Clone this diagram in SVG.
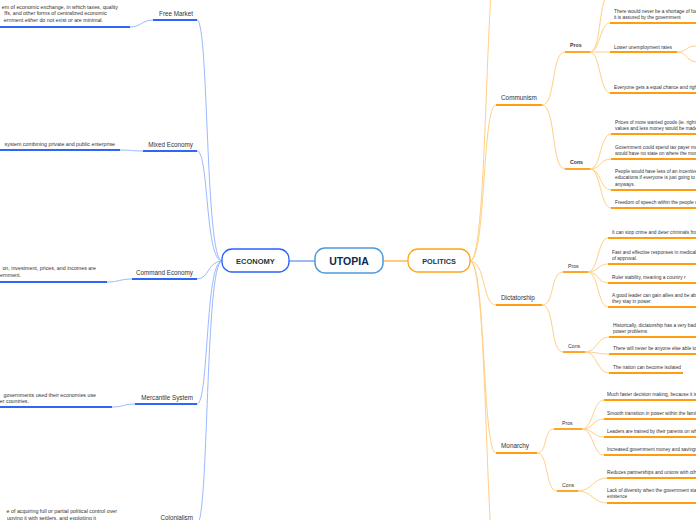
<svg xmlns="http://www.w3.org/2000/svg" width="696" height="520" viewBox="0 0 696 520">
<style>
.ec{fill:none;stroke:#9cb8ff;stroke-width:1}
.pc{fill:none;stroke:#ffcf86;stroke-width:1}
.eu{stroke:#2f66f5;stroke-width:1.8;fill:none}
.pu{stroke:#ff9c0f;stroke-width:1.8;fill:none}
.lab{font-family:"Liberation Sans",Arial,sans-serif;fill:#333}
.el{font-size:6.3px;text-anchor:end}
.ed{font-size:5.3px;text-anchor:end}
.pl{font-size:6.4px}
.pp{font-size:5.2px}
.it{font-size:4.8px}
.box{fill:#fff}
.bt{font-family:"Liberation Sans",Arial,sans-serif;font-weight:bold;text-anchor:middle}
</style>
<rect width="696" height="520" fill="#fff"/>
<g id="connectors">
  <line x1="289" y1="261" x2="315" y2="261" stroke="#5b8def" stroke-width="1.2"/>
  <line x1="383" y1="261" x2="408" y2="261" stroke="#ffa726" stroke-width="1.2"/>
  <!-- economy -->
  <path class="ec" d="M222,261 C205,261 209,20 197,20"/>
  <path class="ec" d="M222,261 C205,261 209,151 197,151"/>
  <path class="ec" d="M222,261 C208,261 209,279 197,279"/>
  <path class="ec" d="M222,261 C205,261 209,404 197,404"/>
  <path class="ec" d="M222,261 C205,261 209,524 197,524"/>
  <path class="ec" d="M153,20 C142,20 141,27 130,27"/>
  <path class="ec" d="M143,151 C131,151 132,150 120,150"/>
  <path class="ec" d="M132,279 C120,279 119,282 107,282"/>
  <path class="ec" d="M135,404 C123,404 124,407 112,407"/>
  <!-- politics -->
  <path class="pc" d="M470,261 C489,261 484,-60 500,-60"/>
  <path class="pc" d="M470,261 C486,261 482,105 496,105"/>
  <path class="pc" d="M470,261 C486,261 482,305 496,305"/>
  <path class="pc" d="M470,261 C486,261 482,453 496,453"/>
  <path class="pc" d="M470,261 C489,261 484,590 500,590"/>
  <path class="pc" d="M542,105 C556,105 551,52 565,52"/>
  <path class="pc" d="M542,105 C556,105 551,169 565,169"/>
  <path class="pc" d="M542,305 C555,305 550,272 563,272"/>
  <path class="pc" d="M542,305 C555,305 550,352 563,352"/>
  <path class="pc" d="M537,453 C548,453 543,429 554,429"/>
  <path class="pc" d="M537,453 C549,453 545,491 557,491"/>
  <path class="pc" d="M590,52 C602,52 598,-6 610,-6"/>
  <path class="pc" d="M590,52 C600,52 600,23 610,23"/>
  <path class="pc" d="M590,52 C600,52 600,52 610,52"/>
  <path class="pc" d="M590,52 C600,52 600,93 610,93"/>
  <path class="pc" d="M677,52 C687,52 686,46 696,46"/>
  <path class="pc" d="M677,52 C687,52 686,62 698,62"/>
  <path class="pc" d="M590,169 C601,169 600,134 611,134"/>
  <path class="pc" d="M590,169 C601,169 600,159 611,159"/>
  <path class="pc" d="M590,169 C601,169 600,190 611,190"/>
  <path class="pc" d="M590,169 C601,169 600,208 611,208"/>
  <path class="pc" d="M588,272 C598,272 598,238 608,238"/>
  <path class="pc" d="M588,272 C598,272 598,264 608,264"/>
  <path class="pc" d="M588,272 C598,272 598,283 608,283"/>
  <path class="pc" d="M588,272 C598,272 598,307 608,307"/>
  <path class="pc" d="M585,352 C597,352 597,337 609,337"/>
  <path class="pc" d="M585,352 C597,352 597,354 609,354"/>
  <path class="pc" d="M585,352 C597,352 597,373 609,373"/>
  <path class="pc" d="M582,429 C593,429 593,400 604,400"/>
  <path class="pc" d="M582,429 C593,429 593,419 604,419"/>
  <path class="pc" d="M582,429 C593,429 593,437 604,437"/>
  <path class="pc" d="M582,429 C593,429 593,455 604,455"/>
  <path class="pc" d="M578,491 C592,491 593,478 607,478"/>
  <path class="pc" d="M578,491 C592,491 593,503 607,503"/>
</g>

<g id="utopia">
  <rect x="315" y="248" width="68" height="25" rx="10" class="box" stroke="#4f9ad8" stroke-width="1.5"/>
  <text x="349" y="265" class="bt" font-size="10.5" fill="#0f2a4d">UTOPIA</text>
</g>
<g id="economy">
  <rect x="222" y="249" width="67" height="23" rx="10" class="box" stroke="#2962ff" stroke-width="1.3"/>
  <text x="255.5" y="263.5" class="bt" font-size="7.5" fill="#163a3e">ECONOMY</text>
</g>
<g id="politics">
  <rect x="408" y="249" width="62" height="23" rx="10" class="box" stroke="#ffa41c" stroke-width="1.3"/>
  <text x="439" y="263.5" class="bt" font-size="7.3" fill="#163a3e">POLITICS</text>
</g>

<g id="free-market">
  <line class="eu" x1="153" y1="20" x2="197" y2="20"/>
  <text class="lab el" x="193" y="16">Free Market</text>
  <line class="eu" x1="-2" y1="27" x2="130" y2="27"/>
  <text class="lab ed" x="118" y="8.5">em of economic exchange, in which taxes, quality</text>
  <text class="lab ed" x="107" y="15">ffs, and other forms of centralized economic</text>
  <text class="lab ed" x="103" y="21.5">ernment either do not exist or are minimal.</text>
</g>
<g id="mixed-economy">
  <line class="eu" x1="143" y1="151" x2="197" y2="151"/>
  <text class="lab el" x="193" y="147">Mixed Economy</text>
  <line class="eu" x1="-2" y1="150" x2="120" y2="150"/>
  <text class="lab ed" x="115" y="146">system combining private and public enterprise</text>
</g>
<g id="command-economy">
  <line class="eu" x1="132" y1="279" x2="197" y2="279"/>
  <text class="lab el" x="193" y="275">Command Economy</text>
  <line class="eu" x1="-2" y1="282" x2="107" y2="282"/>
  <text class="lab ed" x="96" y="270">on, investment, prices, and incomes are</text>
  <text class="lab ed" x="21" y="276.5">ernment.</text>
</g>
<g id="mercantile-system">
  <line class="eu" x1="135" y1="404" x2="197" y2="404"/>
  <text class="lab el" x="193" y="400">Mercantile System</text>
  <line class="eu" x1="-2" y1="407" x2="112" y2="407"/>
  <text class="lab ed" x="96" y="396.5">governments used their economies use</text>
  <text class="lab ed" x="29" y="403">er countries.</text>
</g>
<g id="colonialism">
  <line class="eu" x1="156" y1="524" x2="197" y2="524"/>
  <text class="lab el" x="193" y="519.5">Colonialism</text>
  <text class="lab ed" x="117" y="513">e of acquiring full or partial political control over</text>
  <text class="lab ed" x="96" y="519.5">upying it with settlers, and exploiting it</text>
</g>

<g id="communism">
  <line class="pu" x1="496" y1="105" x2="542" y2="105"/>
  <text class="lab pl" x="501" y="99.5">Communism</text>
</g>
<g id="communism-pros">
  <line class="pu" x1="565" y1="52" x2="590" y2="52"/>
  <text class="lab pp" x="570" y="47" font-weight="bold" fill="#111">Pros</text>
  <line class="pu" x1="610" y1="23" x2="698" y2="23"/>
  <text class="lab it" x="614" y="12.5">There would never be a shortage of food</text>
  <text class="lab it" x="614" y="19">it is assured by the government</text>
  <line class="pu" x1="610" y1="52" x2="677" y2="52"/>
  <text class="lab it" x="614" y="48.5">Lower unemployment rates</text>
  <line class="pu" x1="610" y1="93" x2="698" y2="93"/>
  <text class="lab it" x="614" y="89">Everyone gets a equal chance and rights</text>
</g>
<g id="communism-cons">
  <line class="pu" x1="565" y1="169" x2="590" y2="169"/>
  <text class="lab pp" x="570" y="164" font-weight="bold" fill="#111">Cons</text>
  <line class="pu" x1="611" y1="134" x2="698" y2="134"/>
  <text class="lab it" x="615" y="123.5">Prices of more wanted goods (ie. right a</text>
  <text class="lab it" x="615" y="130">values and less money would be made</text>
  <line class="pu" x1="611" y1="159" x2="698" y2="159"/>
  <text class="lab it" x="615" y="148.5">Government could spend tax payer mo</text>
  <text class="lab it" x="615" y="155">would have no state on where the mon</text>
  <line class="pu" x1="611" y1="190" x2="698" y2="190"/>
  <text class="lab it" x="615" y="172.5">People would have less of an incentive</text>
  <text class="lab it" x="615" y="179">educations if everyone is just going to</text>
  <text class="lab it" x="615" y="185.5">anyways.</text>
  <line class="pu" x1="611" y1="208" x2="698" y2="208"/>
  <text class="lab it" x="615" y="203.5">Freedom of speech within the people w</text>
</g>

<g id="dictatorship">
  <line class="pu" x1="496" y1="305" x2="542" y2="305"/>
  <text class="lab pl" x="501" y="299.5">Dictatorship</text>
</g>
<g id="dictatorship-pros">
  <line class="pu" x1="563" y1="272" x2="588" y2="272"/>
  <text class="lab pp" x="568" y="267.5">Pros</text>
  <line class="pu" x1="608" y1="238" x2="698" y2="238"/>
  <text class="lab it" x="612" y="234">It can stop crime and deter criminals from</text>
  <line class="pu" x1="608" y1="264" x2="698" y2="264"/>
  <text class="lab it" x="612" y="253.5">Fast and effective responses in medical c</text>
  <text class="lab it" x="612" y="260">of approval.</text>
  <line class="pu" x1="608" y1="283" x2="698" y2="283"/>
  <text class="lab it" x="612" y="278.5" font-size="5.2">Ruler stability, meaning a country r</text>
  <line class="pu" x1="608" y1="307" x2="698" y2="307"/>
  <text class="lab it" x="612" y="296.5">A good leader can gain allies and be able</text>
  <text class="lab it" x="612" y="303">they stay in power</text>
</g>
<g id="dictatorship-cons">
  <line class="pu" x1="563" y1="352" x2="585" y2="352"/>
  <text class="lab pp" x="568" y="347.5">Cons</text>
  <line class="pu" x1="609" y1="337" x2="698" y2="337"/>
  <text class="lab it" x="613" y="326.5">Historically, dictatorship has a very bad</text>
  <text class="lab it" x="613" y="333">power problems</text>
  <line class="pu" x1="609" y1="354" x2="698" y2="354"/>
  <text class="lab it" x="613" y="350">There will never be anyone else able to c</text>
  <line class="pu" x1="609" y1="373" x2="683" y2="373"/>
  <text class="lab it" x="613" y="368.5">The nation can become isolated</text>
</g>

<g id="monarchy">
  <line class="pu" x1="496" y1="453" x2="537" y2="453"/>
  <text class="lab pl" x="501" y="448">Monarchy</text>
</g>
<g id="monarchy-pros">
  <line class="pu" x1="554" y1="429" x2="582" y2="429"/>
  <text class="lab pp" x="562" y="424.5">Pros</text>
  <line class="pu" x1="604" y1="400" x2="698" y2="400"/>
  <text class="lab it" x="607" y="396">Much faster decision making, because it is d</text>
  <line class="pu" x1="604" y1="419" x2="698" y2="419"/>
  <text class="lab it" x="607" y="414.5">Smooth transition in power within the family</text>
  <line class="pu" x1="604" y1="437" x2="698" y2="437"/>
  <text class="lab it" x="607" y="432.5">Leaders are trained by their parents on what</text>
  <line class="pu" x1="604" y1="455" x2="698" y2="455"/>
  <text class="lab it" x="607" y="450.5">Increased government money and savings</text>
</g>
<g id="monarchy-cons">
  <line class="pu" x1="557" y1="491" x2="578" y2="491"/>
  <text class="lab pp" x="562" y="486.5">Cons</text>
  <line class="pu" x1="607" y1="478" x2="698" y2="478"/>
  <text class="lab it" x="607" y="474">Reduces partnerships and unions with oth</text>
  <line class="pu" x1="607" y1="503" x2="698" y2="503"/>
  <text class="lab it" x="607" y="491.5">Lack of diversity when the government sta</text>
  <text class="lab it" x="607" y="498">existence</text>
</g>
</svg>
